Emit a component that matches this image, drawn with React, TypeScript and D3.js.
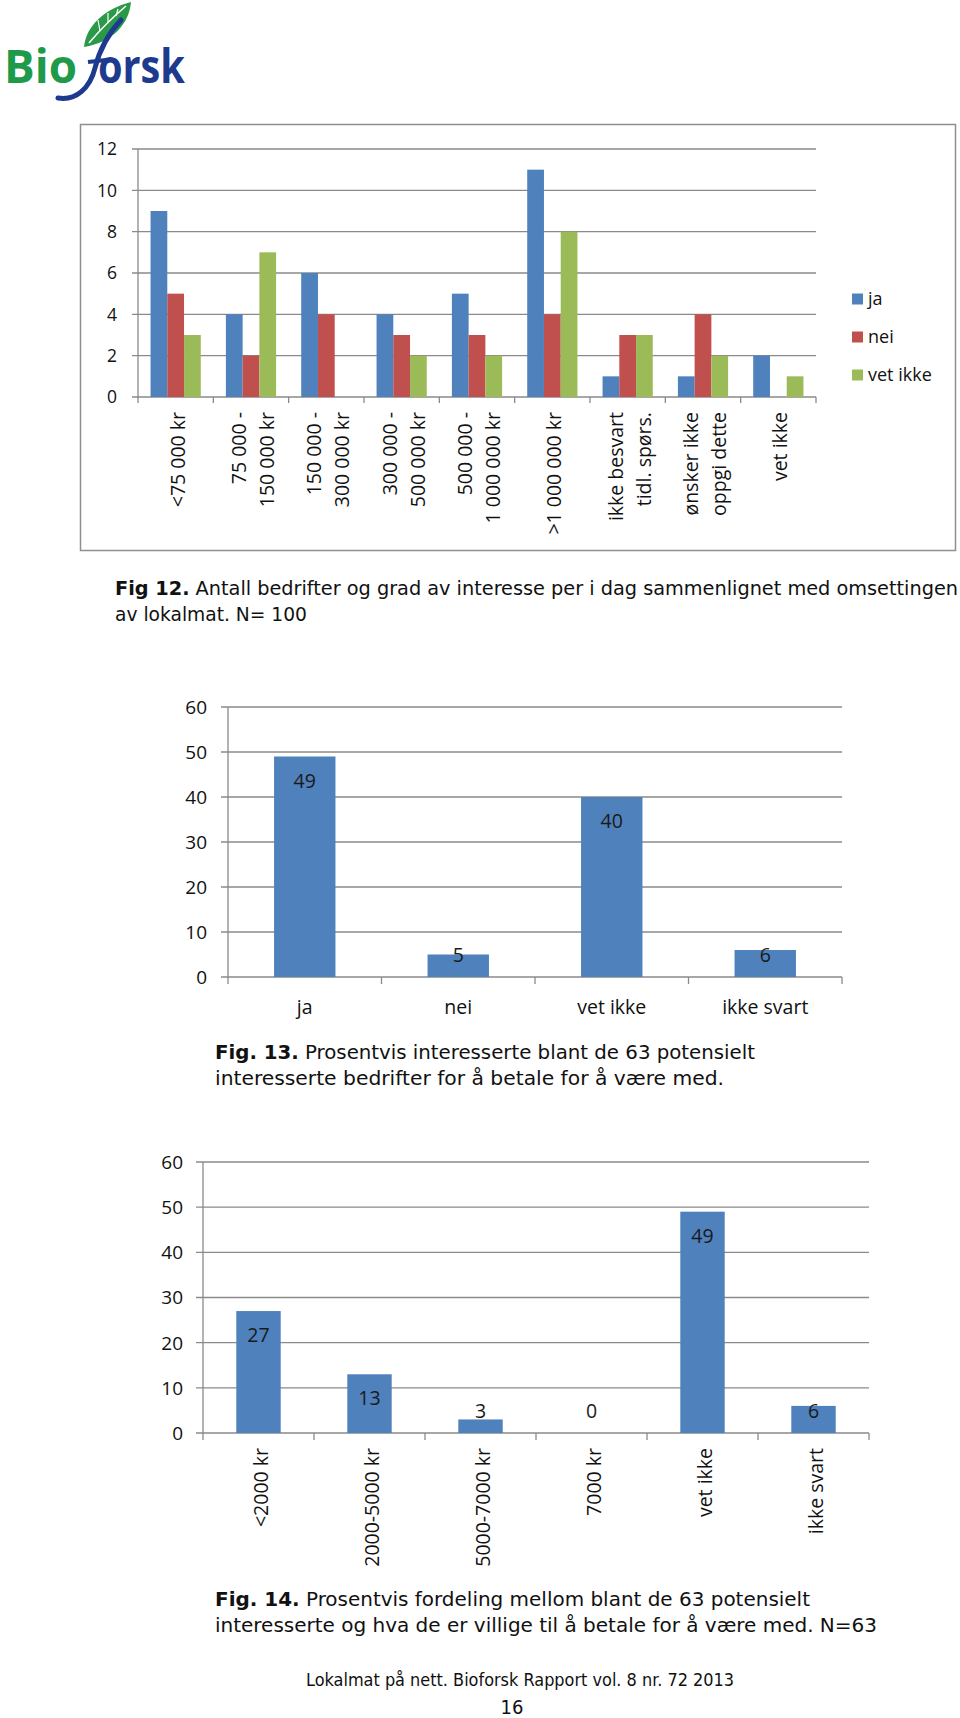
import React from "react";
import * as d3 from "d3";

// fig 12: count of businesses per turnover group
const incomeLabels = [
  ["<75 000 kr"],
  ["75 000 -", "150 000 kr"],
  ["150 000 -", "300 000 kr"],
  ["300 000 -", "500 000 kr"],
  ["500 000 -", "1 000 000 kr"],
  [">1 000 000 kr"],
  ["ikke besvart", "tidl. spørs."],
  ["ønsker ikke", "oppgi dette"],
  ["vet ikke"],
];
const seriesNames = ["ja", "nei", "vet ikke"];
const jaValues = [9, 4, 6, 4, 5, 11, 1, 1, 2];
const neiValues = [5, 2, 4, 3, 3, 4, 3, 4, 0];
const vetIkkeValues = [3, 7, 0, 2, 2, 8, 3, 2, 1];
const seriesColors = ["#4f81bd", "#c0504d", "#9bbb59"];

// fig 13
const interestCats = ["ja", "nei", "vet ikke", "ikke svart"];
const interestValues = [49, 5, 40, 6];

// fig 14
const payCats = ["<2000 kr", "2000-5000 kr", "5000-7000 kr", "7000 kr", "vet ikke", "ikke svart"];
const payValues = [27, 13, 3, 0, 49, 6];

const captions = {
  fig12: [["Fig 12.", " Antall bedrifter og grad av interesse per i dag sammenlignet med omsettingen"], ["", "av lokalmat. N= 100"]],
  fig13: [["Fig. 13.", " Prosentvis interesserte blant de 63 potensielt"], ["", "interesserte bedrifter for å betale for å være med."]],
  fig14: [["Fig. 14.", " Prosentvis fordeling mellom blant de 63 potensielt"], ["", "interesserte og hva de er villige til å betale for å være med. N=63"]],
};
const footerText = "Lokalmat på nett. Bioforsk Rapport vol. 8 nr. 72 2013";
const pageNumber = "16";

const SANS = "'Open Sans', 'Noto Sans', sans-serif";
const NARROW = "'Liberation Sans Narrow', 'DejaVu Sans Condensed', sans-serif";
const GRID = "#8a8a8a";
const INK = "#111";

const Caption = ({ x, y, lines, widths }) => (
  <g>
    {lines.map(([b, rest], i) => (
      <text
        key={i}
        x={x}
        y={y + i * 26}
        dy="0.35em"
        fontFamily={NARROW}
        fontSize={20}
        fill={INK}
        textLength={widths[i]}
        lengthAdjust="spacingAndGlyphs"
      >
        {b && <tspan fontWeight={700}>{b}</tspan>}
        {rest}
      </text>
    ))}
  </g>
);

const Logo = () => (
  <g>
    <path d="M84 47 C86 26 104 9 131 2 C129 24 113 42 84 47 Z" fill="#2a9a48" />
    <path d="M89 43 C100 30 113 17 126 6" stroke="#fff" strokeWidth={1.6} fill="none" />
    <path d="M100 31 L98 20 M108 23 L108 13 M116 16 L118 9" stroke="#fff" strokeWidth={1.2} fill="none" />
    <text x={4} y={83} fontFamily={SANS} fontWeight={700} fontSize={46} fill="#1f9a4a" textLength={73} lengthAdjust="spacingAndGlyphs">
      Bio
    </text>
    <path d="M58 98 C76 101 90 88 95 68 C99 52 106 36 121 20" stroke="#1d3a8f" strokeWidth={5} fill="none" strokeLinecap="round" />
    <path d="M88 62 L106 60" stroke="#1d3a8f" strokeWidth={4} fill="none" />
    <text x={98} y={83} fontFamily={SANS} fontWeight={700} fontSize={46} fill="#1d3a8f" textLength={87} lengthAdjust="spacingAndGlyphs">
      orsk
    </text>
  </g>
);

const GroupedChart = () => {
  const keys = incomeLabels.map((l) => l.join(" "));
  const x0 = d3.scaleBand().domain(keys).range([138, 816]);
  const x1 = d3.scaleBand().domain(seriesNames).range([0, x0.bandwidth()]).paddingOuter(0.75);
  const y = d3.scaleLinear().domain([0, 12]).range([397, 149]);
  const series = [jaValues, neiValues, vetIkkeValues];
  return (
    <g>
      <rect x={80.5} y={124.5} width={875} height={426} fill="#fff" stroke="#8f8f8f" strokeWidth={1.5} />
      {y.ticks(6).map((t) => (
        <g key={t}>
          <line x1={132} x2={816} y1={y(t)} y2={y(t)} stroke={GRID} strokeWidth={1.3} />
          <text x={117} y={y(t)} dy="0.36em" textAnchor="end" fontFamily={SANS} fontSize={17.5} fill={INK}>
            {t}
          </text>
        </g>
      ))}
      <line x1={138} x2={138} y1={y(12)} y2={y(0) + 6} stroke={GRID} strokeWidth={1.3} />
      {keys.map((k) => (
        <line key={k} x1={x0(k) + x0.bandwidth()} x2={x0(k) + x0.bandwidth()} y1={y(0)} y2={y(0) + 6} stroke={GRID} strokeWidth={1.3} />
      ))}
      {keys.map((k, i) => (
        <g key={k}>
          {series.map((vals, s) =>
            vals[i] > 0 ? (
              <rect
                key={s}
                x={x0(k) + x1(seriesNames[s])}
                y={y(vals[i])}
                width={x1.bandwidth()}
                height={y(0) - y(vals[i])}
                fill={seriesColors[s]}
              />
            ) : null
          )}
        </g>
      ))}
      {incomeLabels.map((lines, i) => {
        const cx = x0(keys[i]) + x0.bandwidth() / 2;
        return lines.map((line, j) => {
          const lx = cx + (j - (lines.length - 1) / 2) * 28 + 2;
          return (
            <text
              key={i + "-" + j}
              transform={`translate(${lx},412) rotate(-90)`}
              dy="0.36em"
              textAnchor="end"
              fontFamily={SANS}
              fontSize={19.5}
              fill={INK}
            >
              {line}
            </text>
          );
        });
      })}
      {seriesNames.map((name, s) => (
        <g key={name} transform={`translate(852,${299 + s * 38})`}>
          <rect x={0} y={-5.5} width={11} height={11} fill={seriesColors[s]} />
          <text x={16} y={0} dy="0.36em" fontFamily={SANS} fontSize={18} fill={INK}>
            {name}
          </text>
        </g>
      ))}
    </g>
  );
};

const SingleChart = ({ cats, values, left, right, top, bottom, labelRight, rotate }) => {
  const x = d3.scaleBand().domain(cats).range([left, right]).paddingInner(0.6).paddingOuter(0.3);
  const step = (right - left) / cats.length;
  const y = d3.scaleLinear().domain([0, 60]).range([bottom, top]);
  return (
    <g>
      {y.ticks(6).map((t) => (
        <g key={t}>
          <line x1={left - 7} x2={right} y1={y(t)} y2={y(t)} stroke={GRID} strokeWidth={1.3} />
          <text x={labelRight} y={y(t)} dy="0.36em" textAnchor="end" fontFamily={SANS} fontSize={19} fill={INK}>
            {t}
          </text>
        </g>
      ))}
      <line x1={left} x2={left} y1={top} y2={bottom + 7} stroke={GRID} strokeWidth={1.3} />
      {cats.map((c, i) => (
        <line key={c} x1={left + step * (i + 1)} x2={left + step * (i + 1)} y1={bottom} y2={bottom + 7} stroke={GRID} strokeWidth={1.3} />
      ))}
      {cats.map((c, i) => {
        const cx = x(c) + x.bandwidth() / 2;
        const ly = Math.min(y(values[i]) + 24, bottom - 22);
        return (
          <g key={c}>
            {values[i] > 0 && (
              <rect x={x(c)} y={y(values[i])} width={x.bandwidth()} height={bottom - y(values[i])} fill="#4f81bd" />
            )}
            <text x={cx} y={ly} dy="0.36em" textAnchor="middle" fontFamily={SANS} fontSize={19.5} fill="#1a1a1a">
              {values[i]}
            </text>
            {rotate ? (
              <text
                transform={`translate(${cx + 2},${bottom + 15}) rotate(-90)`}
                dy="0.36em"
                textAnchor="end"
                fontFamily={SANS}
                fontSize={19.5}
                fill={INK}
              >
                {c}
              </text>
            ) : (
              <text x={cx} y={bottom + 30} dy="0.36em" textAnchor="middle" fontFamily={SANS} fontSize={19.5} fill={INK}>
                {c}
              </text>
            )}
          </g>
        );
      })}
    </g>
  );
};

export default function App() {
  return (
    <svg
      width={960}
      height={1718}
      style={{ position: "absolute", left: 0, top: 0, background: "#fff" }}
    >
      <rect width={960} height={1718} fill="#fff" />
      <Logo />
      <GroupedChart />
      <Caption x={115} y={588} lines={captions.fig12} widths={[843, 192]} />
      <SingleChart
        cats={interestCats}
        values={interestValues}
        left={228}
        right={842}
        top={707}
        bottom={977}
        labelRight={207}
        rotate={false}
      />
      <Caption x={215} y={1052} lines={captions.fig13} widths={[540, 509]} />
      <SingleChart
        cats={payCats}
        values={payValues}
        left={203}
        right={869}
        top={1162}
        bottom={1433}
        labelRight={183}
        rotate={true}
      />
      <Caption x={215} y={1599} lines={captions.fig14} widths={[595, 662]} />
      <text x={306} y={1680} dy="0.35em" fontFamily={NARROW} fontSize={18} fill={INK} textLength={428} lengthAdjust="spacingAndGlyphs">
        {footerText}
      </text>
      <text x={512} y={1707} dy="0.35em" textAnchor="middle" fontFamily={NARROW} fontSize={20} fill={INK}>
        {pageNumber}
      </text>
    </svg>
  );
}
